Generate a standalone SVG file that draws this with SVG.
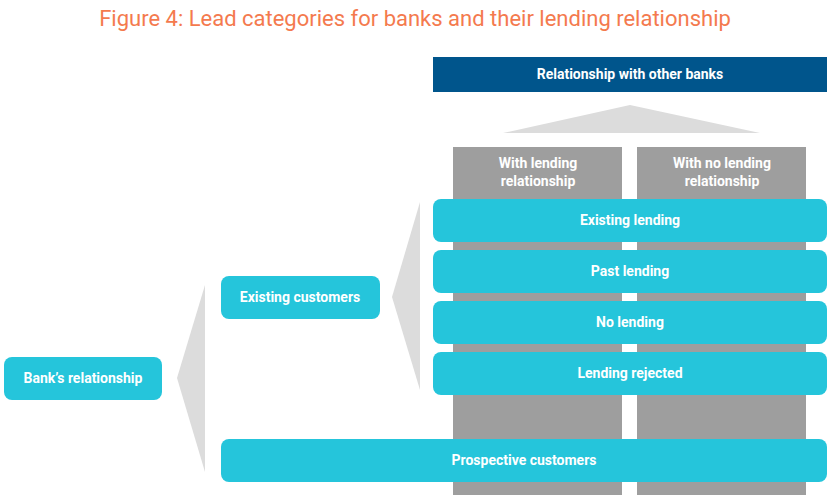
<svg xmlns="http://www.w3.org/2000/svg" width="830" height="500" viewBox="0 0 830 500">
<style>
.t{font-family:"Roboto","Liberation Sans",sans-serif;font-weight:bold;font-size:14px;fill:#fff;text-anchor:middle}
.c{fill:#25C5DB}
.col{fill:#9E9E9E}
.w{fill:#DCDCDC}
</style>
<rect width="830" height="500" fill="#fff"/>
<text x="415" y="26" style="font-family:Roboto,'Liberation Sans',sans-serif;font-size:22px;fill:#F47A4E;text-anchor:middle">Figure 4: Lead categories for banks and their lending relationship</text>
<g id="wedges">
<polygon class="w" points="503,133 630,105 760,133"/>
<polygon class="w" points="177,378 205,285 205,472"/>
<polygon class="w" points="392,297 420,202 420,390"/>
</g>
<g id="other-banks"><rect x="433" y="57" width="394" height="35" fill="#00558C"/><text class="t" x="630" y="79">Relationship with other banks</text></g>
<g id="col-lending"><rect class="col" x="453" y="147" width="169" height="348"/><text class="t" x="538" y="168">With lending</text><text class="t" x="538" y="186">relationship</text></g>
<g id="col-nolending"><rect class="col" x="637" y="147" width="169" height="348"/><text class="t" x="722" y="168">With no lending</text><text class="t" x="722" y="186">relationship</text></g>
<g id="existing-lending"><rect class="c" x="433" y="199" width="394" height="43" rx="8"/><text class="t" x="630" y="225">Existing lending</text></g>
<g id="past-lending"><rect class="c" x="433" y="250" width="394" height="43" rx="8"/><text class="t" x="630" y="276">Past lending</text></g>
<g id="no-lending"><rect class="c" x="433" y="301" width="394" height="43" rx="8"/><text class="t" x="630" y="327">No lending</text></g>
<g id="lending-rejected"><rect class="c" x="433" y="352" width="394" height="43" rx="8"/><text class="t" x="630" y="378">Lending rejected</text></g>
<g id="existing-customers"><rect class="c" x="221" y="276" width="159" height="43" rx="8"/><text class="t" x="300" y="302">Existing customers</text></g>
<g id="banks-relationship"><rect class="c" x="4" y="357" width="158" height="43" rx="8"/><text class="t" x="83" y="383">Bank’s relationship</text></g>
<g id="prospective"><rect class="c" x="221" y="439" width="606" height="43" rx="8"/><text class="t" x="524" y="465">Prospective customers</text></g>
<g id="connectors"/>
</svg>
